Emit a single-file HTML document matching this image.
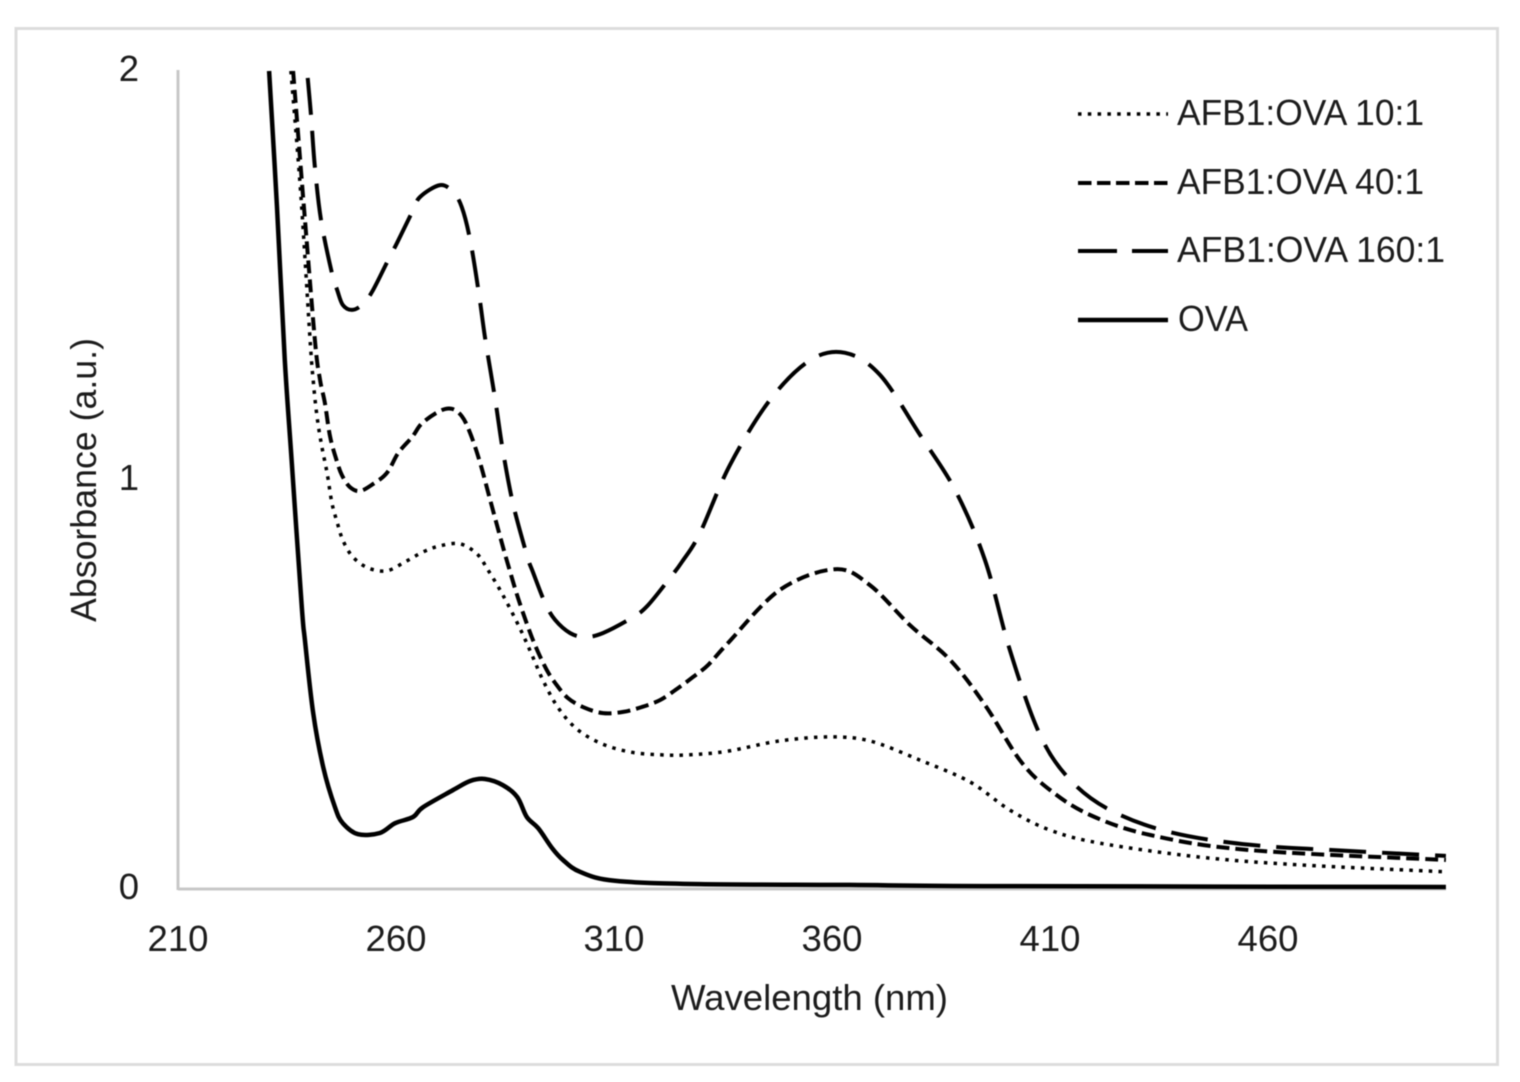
<!DOCTYPE html>
<html lang="en">
<head>
<meta charset="utf-8">
<title>Absorbance spectra</title>
<style>
html,body{margin:0;padding:0;background:#fff;}
svg{display:block;filter:blur(0.45px);}
text{font-family:"Liberation Sans",sans-serif;fill:#1c1c1c;}
</style>
</head>
<body>
<svg id="chart" xmlns="http://www.w3.org/2000/svg" width="1520" height="1082" viewBox="0 0 1520 1082">
  <rect x="16" y="28.5" width="1481.5" height="1036" fill="#fff" stroke="#dcdcdc" stroke-width="3"/>
  <line x1="178" y1="70" x2="178" y2="890" stroke="#c8c8c8" stroke-width="3"/>
  <line x1="178" y1="889" x2="1446" y2="889" stroke="#c8c8c8" stroke-width="3"/>
  <g id="ticks"></g>
  <g id="marks"></g>
  <text x="671" y="1010" font-size="36.5" textLength="277" lengthAdjust="spacingAndGlyphs">Wavelength (nm)</text>
  <text transform="translate(96,622) rotate(-90)" font-size="36.5" textLength="284" lengthAdjust="spacingAndGlyphs">Absorbance (a.u.)</text>

  <g>
    <g>
      <line x1="1078" y1="114" x2="1168" y2="114" stroke="#000" stroke-width="3.5" stroke-dasharray="3.5 6.3"/>
      <text x="1177" y="125" font-size="36.5" textLength="247" lengthAdjust="spacingAndGlyphs">AFB1:OVA 10:1</text>
    </g>
    <g>
      <line x1="1078" y1="183" x2="1168" y2="183" stroke="#000" stroke-width="4" stroke-dasharray="13.5 5.5"/>
      <text x="1177" y="194" font-size="36.5" textLength="247" lengthAdjust="spacingAndGlyphs">AFB1:OVA 40:1</text>
    </g>
    <g>
      <line x1="1078" y1="251" x2="1168" y2="251" stroke="#000" stroke-width="4" stroke-dasharray="39 15"/>
      <text x="1177" y="262" font-size="36.5" textLength="268" lengthAdjust="spacingAndGlyphs">AFB1:OVA 160:1</text>
    </g>
    <g>
      <line x1="1078" y1="320" x2="1168" y2="320" stroke="#000" stroke-width="4.5"/>
      <text x="1178" y="331" font-size="36.5" textLength="70" lengthAdjust="spacingAndGlyphs">OVA</text>
    </g>
  </g>
</svg>
<script>
var xTickLabels = [210, 260, 310, 360, 410, 460];
var yTickLabels = [0, 1, 2];

var ovaWavelengths = [230.9,232.7,234.5,236.1,238.4,239.1,241,243.3,246,247.8,251.3,256.3,259.8,263.9,266.2,273.1,277,280.4,284.5,287.8,290,292.6,295.8,298.3,302.2,310.2,329.7,364,398.5,500.8];
var ovaAbsorbance = [2,1.667,1.293,1.042,0.689,0.609,0.43,0.298,0.2,0.161,0.134,0.137,0.161,0.176,0.2,0.242,0.264,0.269,0.254,0.225,0.176,0.149,0.1,0.071,0.042,0.02,0.012,0.01,0.007,0.005];

var afb10Wavelengths = [235.9,238.2,240.3,241,241.9,243,244.2,245.3,246.5,247.8,250.1,253.6,257.9,262.1,266.2,270.1,274.7,278.6,281.1,284.5,288.4,291.2,293.9,297.2,301.5,307.2,313.7,320.6,327.4,336.1,348,359.5,368.7,380.2,391.6,400.8,410,421.5,444.4,467.3,500.8];
var afb10Absorbance = [2,1.692,1.342,1.244,1.154,1.081,1.017,0.944,0.897,0.853,0.812,0.785,0.778,0.8,0.824,0.839,0.844,0.819,0.78,0.719,0.638,0.572,0.506,0.443,0.391,0.355,0.335,0.328,0.328,0.337,0.362,0.372,0.362,0.315,0.262,0.193,0.144,0.112,0.078,0.059,0.042];

var afb40Wavelengths = [236.4,238.7,241.4,242.6,243.7,244.9,246.5,247.6,249.4,251.7,254.7,257.9,260.5,263.7,266,270.1,272.8,275.1,277,279.3,281.6,283.9,285.5,288,290.7,292.6,294.6,296.5,299.4,303.3,307.5,312.1,316.4,320.6,324.4,328.1,331.6,336.1,348,360.7,368.7,377.9,387.1,395.1,403.1,410,419.2,433,455.9,500.8];
var afb40Absorbance = [2,1.692,1.342,1.244,1.188,1.105,1.044,1.012,0.983,0.973,0.99,1.017,1.066,1.105,1.139,1.169,1.174,1.156,1.115,1.042,0.951,0.861,0.8,0.711,0.628,0.579,0.535,0.504,0.467,0.443,0.43,0.433,0.445,0.462,0.489,0.518,0.548,0.601,0.731,0.782,0.743,0.645,0.56,0.45,0.315,0.242,0.181,0.132,0.095,0.071];

var afb160Wavelengths = [239.6,240.5,241.4,242.8,245.3,246.5,247.8,249.9,252.2,254.5,258.2,260.2,263.7,265.5,270.1,273.1,275.1,277,279,280.4,282.7,284.5,286.8,290,291.4,294.2,296.5,299.9,303.3,307.5,314.4,317.8,322.8,325.6,329.7,336.6,345.8,355,363,371,380.2,388.2,395.1,400.8,407.7,414.6,423.8,437.5,455.9,478.8,500.8];
var afb160Absorbance = [2,1.892,1.765,1.636,1.506,1.465,1.428,1.416,1.428,1.46,1.538,1.579,1.655,1.692,1.721,1.704,1.667,1.587,1.457,1.35,1.2,1.073,0.944,0.817,0.775,0.699,0.658,0.626,0.616,0.626,0.665,0.694,0.76,0.8,0.87,1.037,1.196,1.293,1.311,1.257,1.11,0.976,0.804,0.584,0.377,0.267,0.193,0.139,0.108,0.093,0.081];

var NS = 'http://www.w3.org/2000/svg';

function xScale(nm) { return 178 + (nm - 210) * 4.36; }
function yScale(a) { return 889 - a * 409; }

function smoothPath(xs, ys) {
  var pts = xs.map(function (x, i) { return [xScale(x), yScale(ys[i])]; });
  var d = 'M' + pts[0][0].toFixed(1) + ' ' + pts[0][1].toFixed(1);
  for (var i = 0; i < pts.length - 1; i++) {
    var p0 = pts[Math.max(i - 1, 0)], p1 = pts[i], p2 = pts[i + 1], p3 = pts[Math.min(i + 2, pts.length - 1)];
    var c1x = p1[0] + (p2[0] - p0[0]) / 6, c1y = p1[1] + (p2[1] - p0[1]) / 6;
    var c2x = p2[0] - (p3[0] - p1[0]) / 6, c2y = p2[1] - (p3[1] - p1[1]) / 6;
    d += 'C' + c1x.toFixed(1) + ' ' + c1y.toFixed(1) + ' ' + c2x.toFixed(1) + ' ' + c2y.toFixed(1) + ' ' + p2[0].toFixed(1) + ' ' + p2[1].toFixed(1);
  }
  return d;
}

var marks = document.getElementById('marks');
var ticks = document.getElementById('ticks');

function drawLine(xs, ys, width, dash, offset, name) {
  var p = document.createElementNS(NS, 'path');
  p.setAttribute('d', smoothPath(xs, ys));
  p.setAttribute('fill', 'none');
  p.setAttribute('stroke', '#000');
  p.setAttribute('stroke-width', width);
  if (dash) p.setAttribute('stroke-dasharray', dash);
  if (offset) p.setAttribute('stroke-dashoffset', offset);
  
  
  marks.appendChild(p);
}

drawLine(afb10Wavelengths, afb10Absorbance, 3.5, '3.5 6.2', 0, 'line-afb1-ova-10-1');
drawLine(afb40Wavelengths, afb40Absorbance, 4, '13 6', 0, 'line-afb1-ova-40-1');
drawLine(afb160Wavelengths, afb160Absorbance, 4, '37 16', 46, 'line-afb1-ova-160-1');
drawLine(ovaWavelengths, ovaAbsorbance, 4.5, '', 0, 'line-ova');

xTickLabels.forEach(function (v) {
  var t = document.createElementNS(NS, 'text');
  t.setAttribute('x', xScale(v));
  t.setAttribute('y', 951);
  t.setAttribute('font-size', '36.5');
  t.setAttribute('text-anchor', 'middle');
  
  
  t.textContent = v;
  ticks.appendChild(t);
});

yTickLabels.forEach(function (v) {
  var t = document.createElementNS(NS, 'text');
  t.setAttribute('x', 139);
  t.setAttribute('y', yScale(v) + 10);
  t.setAttribute('font-size', '36.5');
  t.setAttribute('text-anchor', 'end');
  
  
  t.textContent = v;
  ticks.appendChild(t);
});
</script>
</body>
</html>
